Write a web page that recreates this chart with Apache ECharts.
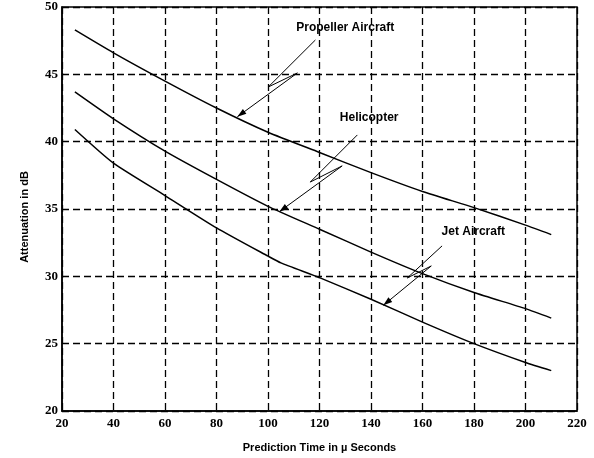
<!DOCTYPE html>
<html><head><meta charset="utf-8">
<script src="https://cdn.jsdelivr.net/npm/echarts@6/dist/echarts.min.js"></script>
<style>html,body{margin:0;padding:0;background:#fff}#c{width:594px;height:458px}</style>
</head><body><div id="c"></div>
<script>
const propellerData = [[25,48.3],[40,46.6],[60,44.5],[80,42.5],[100,40.7],[120,39.2],[140,37.7],[160,36.3],[180,35.1],[200,33.8],[210,33.1]];
const helicopterData = [[25,43.7],[40,41.7],[60,39.3],[80,37.2],[100,35.2],[120,33.5],[140,31.8],[160,30.2],[180,28.8],[200,27.6],[210,26.9]];
const jetData = [[25,40.9],[40,38.4],[60,36.0],[80,33.6],[100,31.5],[105,31.0],[120,29.9],[140,28.3],[160,26.6],[180,25.0],[200,23.6],[210,23.0]];
const xTicks = [20,40,60,80,100,120,140,160,180,200,220];
const yTicks = [20,25,30,35,40,45,50];
// annotation: label position, leader points (data coords), arrow tip last
const annotations = [
  {text:'Propeller Aircraft', at:[130,48.45], pts:[[118.4,47.55],[100.1,44.06],[111.4,45.1],[88.1,41.85]]},
  {text:'Helicopter', at:[139.3,41.76], pts:[[134.7,40.5],[116.4,37.0],[128.8,38.2],[104.4,34.8]]},
  {text:'Jet Aircraft', at:[179.7,33.3], pts:[[167.6,32.26],[154.1,29.88],[163.4,30.77],[144.8,27.85]]}
];
const chart = echarts.init(document.getElementById('c'));
const lineStyle = {color:'#000', width:1.5};
const tickFont = {fontFamily:'Liberation Serif', fontWeight:'bold', fontSize:13, color:'#000'};
const option = {
  animation:false,
  backgroundColor:'#fff',
  grid:{left:62, right:17, top:7, bottom:47, show:true, borderColor:'#000', borderWidth:1.5},
  xAxis:{type:'value', min:xTicks[0], max:xTicks[xTicks.length-1], interval:20,
    name:'Prediction Time in µ Seconds', nameLocation:'middle', nameGap:31,
    nameTextStyle:{fontFamily:'Liberation Sans', fontWeight:'bold', fontSize:11, color:'#000'},
    axisLine:{lineStyle:{color:'#000', width:1.5}}, axisTick:{show:false},
    axisLabel:Object.assign({margin:6}, tickFont),
    splitLine:{lineStyle:{color:'#000', type:[7,4], width:1.3}}},
  yAxis:{type:'value', min:yTicks[0], max:yTicks[yTicks.length-1], interval:5,
    name:'Attenuation in dB', nameLocation:'middle', nameGap:32,
    nameTextStyle:{fontFamily:'Liberation Sans', fontWeight:'bold', fontSize:11, color:'#000', padding:[0,16,0,0]},
    axisLine:{lineStyle:{color:'#000', width:1.5}}, axisTick:{show:false},
    axisLabel:Object.assign({margin:4}, tickFont),
    splitLine:{lineStyle:{color:'#000', type:[7,4], width:1.3}}},
  series:[
    {name:'Propeller Aircraft', type:'line', data:propellerData, showSymbol:false, lineStyle, smooth:0.2},
    {name:'Helicopter', type:'line', data:helicopterData, showSymbol:false, lineStyle, smooth:0.2},
    {name:'Jet Aircraft', type:'line', data:jetData, showSymbol:false, lineStyle, smooth:0.2}
  ]
};
chart.setOption(option);
const graphics = [];
annotations.forEach(a => {
  const p = chart.convertToPixel({gridIndex:0}, a.at);
  graphics.push({type:'text', x:p[0], y:p[1], style:{text:a.text, font:'bold 12px "Liberation Sans"', fill:'#000', align:'center', verticalAlign:'middle'}});
  const pts = a.pts.map(q => chart.convertToPixel({gridIndex:0}, q));
  graphics.push({type:'polyline', shape:{points:pts}, style:{stroke:'#000', lineWidth:1, fill:null}});
  const tip = pts[pts.length-1], prev = pts[pts.length-2];
  const ang = Math.atan2(tip[1]-prev[1], tip[0]-prev[0]);
  const L = 9, W = 3;
  const bx = tip[0]-L*Math.cos(ang), by = tip[1]-L*Math.sin(ang);
  graphics.push({type:'polygon', shape:{points:[tip,[bx+W*Math.sin(ang), by-W*Math.cos(ang)],[bx-W*Math.sin(ang), by+W*Math.cos(ang)]]}, style:{fill:'#000'}});
});
chart.setOption({graphic:graphics});
</script></body></html>
